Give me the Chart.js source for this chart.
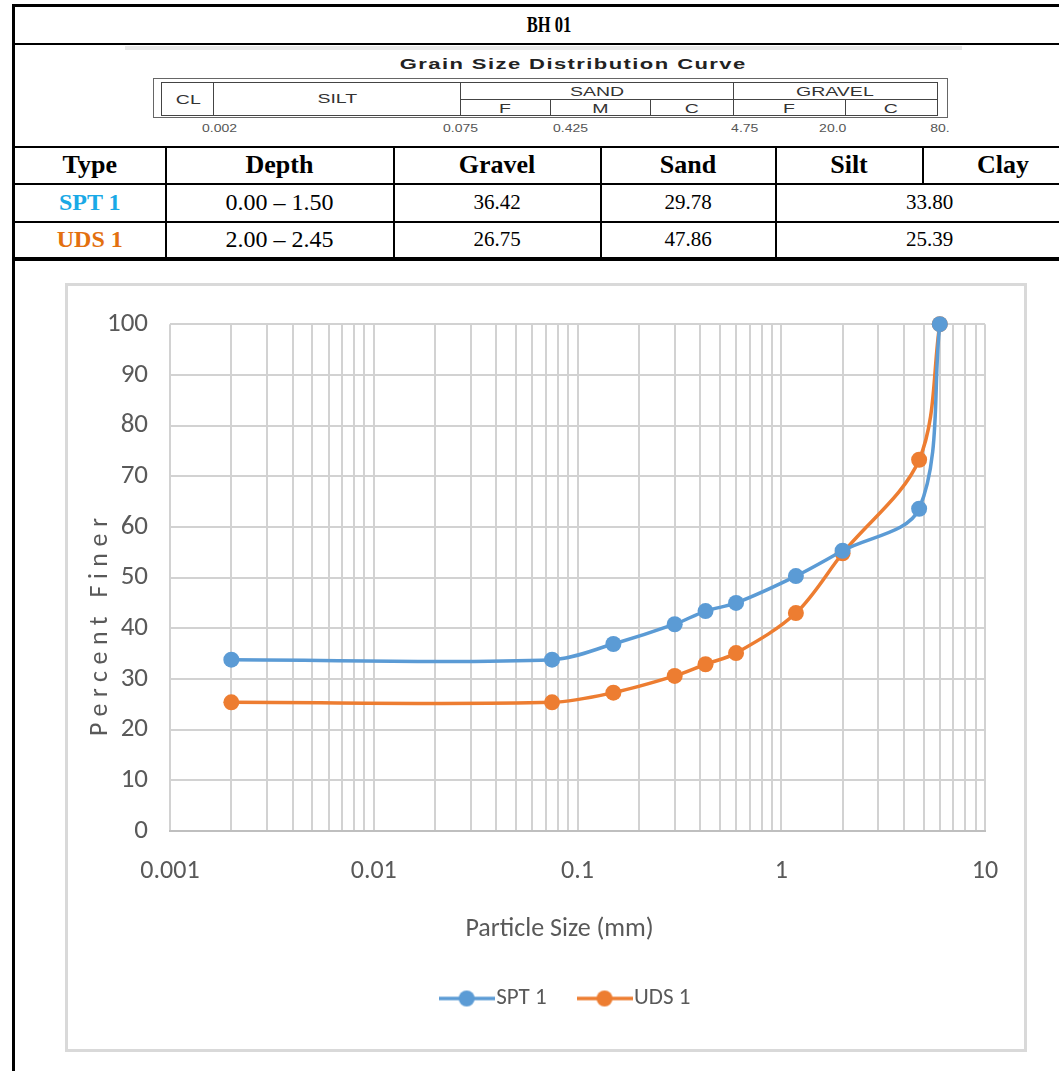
<!DOCTYPE html>
<html>
<head>
<meta charset="utf-8">
<script src="https://cdn.jsdelivr.net/npm/chart.js@4.4.1/dist/chart.umd.min.js"></script>
<style>
  html, body { margin: 0; padding: 0; background: #fff; }
  body { width: 1059px; height: 1071px; position: relative; overflow: hidden; }
  #tbl {
    position: absolute; left: 12px; top: 4px; width: 1070px;
    border-collapse: collapse; table-layout: fixed;
    font-family: "Liberation Serif", "Times New Roman", serif; color: #000;
  }
  #tbl td, #tbl th { border: 2px solid #000; padding: 0; text-align: center; vertical-align: middle; }
  #tbl tr:first-child td { border-top-width: 3px; }
  #tbl tr:last-child td { border-bottom-width: 4px; }
  #tbl td:first-child, #tbl th:first-child { border-left-width: 3px; }
  .bh { font-weight: bold; font-size: 23px; }
  .bh span { display: inline-block; transform: scaleX(0.72); }
  #tbl th { font-size: 26px; font-weight: bold; }
  .depth { font-size: 24px; }
  .num { font-size: 21px; }
  .spt { color: #1aa9e6; font-weight: bold; font-size: 24px; }
  .uds { color: #e3700f; font-weight: bold; font-size: 24px; }
  .band { position: absolute; font-family: "Liberation Sans", Arial, sans-serif; color: #333; }
  .ln { position: absolute; background: #444; }
  .lbl { position: absolute; width: 200px; text-align: center; line-height: 1; }
  .lbl span { display: inline-block; transform: scaleX(1.5); }
  #leftline { position: absolute; left: 12px; top: 257px; width: 3px; height: 820px; background: #000; }
  #chartBox {
    position: absolute; left: 65px; top: 283px; width: 962px; height: 769px;
    border: 3px solid #d9d9d9; box-sizing: border-box; background: #fff;
  }
  #chartBox canvas { display: block; }
</style>
</head>
<body>

<table id="tbl">
  <colgroup>
    <col style="width:152px"><col style="width:228px"><col style="width:207px">
    <col style="width:175px"><col style="width:147px"><col style="width:161px">
  </colgroup>
  <tr style="height:38px"><td colspan="6" class="bh"><span>BH 01</span></td></tr>
  <tr style="height:103px"><td colspan="6"></td></tr>
  <tr style="height:37px"><th>Type</th><th>Depth</th><th>Gravel</th><th>Sand</th><th>Silt</th><th>Clay</th></tr>
  <tr style="height:38px"><td class="spt">SPT 1</td><td class="depth">0.00 – 1.50</td><td class="num">36.42</td><td class="num">29.78</td><td class="num" colspan="2">33.80</td></tr>
  <tr style="height:37px"><td class="uds">UDS 1</td><td class="depth">2.00 – 2.45</td><td class="num">26.75</td><td class="num">47.86</td><td class="num" colspan="2">25.39</td></tr>
</table>

<!-- grain size band -->
<div class="band">
  <div style="position:absolute;left:125px;top:46px;width:837px;height:4px;background:#e8e8e8"></div>
  <div class="lbl" style="left:373px;top:56px;width:400px;font-weight:bold;font-size:15.5px;color:#222"><span style="transform:scaleX(1.42);letter-spacing:1px">Grain Size Distribution Curve</span></div>
  <div style="position:absolute;left:153px;top:78px;width:795px;height:40px;border:1px solid #666;box-sizing:border-box"></div>
  <div style="position:absolute;left:161px;top:82px;width:777px;height:34px;border:1px solid #444;box-sizing:border-box"></div>
  <div class="ln" style="left:213px;top:82px;width:1px;height:34px"></div>
  <div class="ln" style="left:460px;top:82px;width:1px;height:34px"></div>
  <div class="ln" style="left:733px;top:82px;width:1px;height:34px"></div>
  <div class="ln" style="left:460px;top:99px;width:478px;height:1px"></div>
  <div class="ln" style="left:550px;top:99px;width:1px;height:17px"></div>
  <div class="ln" style="left:650px;top:99px;width:1px;height:17px"></div>
  <div class="ln" style="left:845px;top:99px;width:1px;height:17px"></div>
  <div class="lbl" style="left:88px;top:93px;font-size:13px"><span>CL</span></div>
  <div class="lbl" style="left:237px;top:92px;font-size:13px"><span>SILT</span></div>
  <div class="lbl" style="left:497px;top:85px;font-size:13px"><span>SAND</span></div>
  <div class="lbl" style="left:735px;top:85px;font-size:13px"><span>GRAVEL</span></div>
  <div class="lbl" style="left:405px;top:102px;font-size:13px"><span>F</span></div>
  <div class="lbl" style="left:500px;top:102px;font-size:13px"><span>M</span></div>
  <div class="lbl" style="left:592px;top:102px;font-size:13px"><span>C</span></div>
  <div class="lbl" style="left:689px;top:102px;font-size:13px"><span>F</span></div>
  <div class="lbl" style="left:791px;top:102px;font-size:13px"><span>C</span></div>
  <div class="lbl" style="left:120px;top:124px;font-size:10px;color:#555"><span style="transform:scaleX(1.4)">0.002</span></div>
  <div class="lbl" style="left:361px;top:124px;font-size:10px;color:#555"><span style="transform:scaleX(1.4)">0.075</span></div>
  <div class="lbl" style="left:471px;top:124px;font-size:10px;color:#555"><span style="transform:scaleX(1.4)">0.425</span></div>
  <div class="lbl" style="left:645px;top:124px;font-size:10px;color:#555"><span style="transform:scaleX(1.4)">4.75</span></div>
  <div class="lbl" style="left:733px;top:124px;font-size:10px;color:#555"><span style="transform:scaleX(1.4)">20.0</span></div>
  <div class="lbl" style="left:840px;top:124px;font-size:10px;color:#555"><span style="transform:scaleX(1.4)">80.</span></div>
</div>

<div id="leftline"></div>

<div id="chartBox"><canvas id="gsd" width="956" height="763"></canvas></div>

<script>
// sieve sizes (mm) and percent passing
const sizes = [0.002, 0.075, 0.15, 0.3, 0.425, 0.6, 1.18, 2.0, 4.75, 6.0];
const spt1 = [33.8, 33.8, 36.9, 40.8, 43.4, 45.0, 50.3, 55.3, 63.58, 100];
const uds1 = [25.39, 25.39, 27.3, 30.6, 32.9, 35.1, 43.0, 54.8, 73.25, 100];

const seriesNames = ['SPT 1', 'UDS 1'];
const seriesColors = ['#5b9bd5', '#ed7d31'];

const decadeTicks = [0.001, 0.01, 0.1, 1, 10];
const decadeLabels = ['0.001', '0.01', '0.1', '1', '10'];
const multipliers = [1, 2, 3, 4, 5, 6, 7, 8, 9];

const xTitle = 'Particle Size (mm)';
const yTitle = 'Percent Finer';

// gridline positions: 1..9 in every decade, plus the last decade
const gridValues = [];
decadeTicks.slice(0, -1).forEach((d) => {
  multipliers.forEach((m) => gridValues.push(+(d * m).toPrecision(3)));
});
gridValues.push(decadeTicks[decadeTicks.length - 1]);

const FONT = 'Carlito, Lato, sans-serif';
const GREY_TEXT = '#595959';

// legend icon: short line with a dot
function makeIcon(color) {
  const c = document.createElement('canvas');
  c.width = 56;
  c.height = 20;
  const g = c.getContext('2d');
  g.strokeStyle = color;
  g.lineWidth = 3.5;
  g.beginPath();
  g.moveTo(0, 10);
  g.lineTo(56, 10);
  g.stroke();
  g.fillStyle = color;
  g.beginPath();
  g.arc(28, 10, 8, 0, Math.PI * 2);
  g.fill();
  return c;
}
const icons = seriesColors.map(makeIcon);

const axisTitles = {
  id: 'axisTitles',
  afterLayout(chart) {
    // legend sits under the plot, a little left of its centre
    const { chartArea, legend } = chart;
    const shift = (chartArea.left + chartArea.right - legend.left - legend.right) / 2 - 8;
    legend.left += shift;
    legend.right += shift;
  },
  afterDraw(chart) {
    const { ctx, chartArea } = chart;
    ctx.save();
    ctx.fillStyle = GREY_TEXT;
    ctx.textAlign = 'center';
    ctx.textBaseline = 'middle';
    ctx.font = '26px ' + FONT;
    ctx.fillText(xTitle, chartArea.left + (chartArea.right - chartArea.left) * 0.478, chartArea.bottom + 98);
    ctx.translate(chartArea.left - 70, chartArea.top + (chartArea.bottom - chartArea.top) * 0.597);
    ctx.rotate(-Math.PI / 2);
    ctx.font = '26px ' + FONT;
    ctx.letterSpacing = '6.5px';
    ctx.fillText(yTitle, 3, 0);
    ctx.restore();
  },
};

const toPoints = (ys) => sizes.map((x, i) => ({ x, y: ys[i] }));

new Chart(document.getElementById('gsd'), {
  type: 'line',
  data: {
    datasets: [spt1, uds1].map((ys, i) => ({
      label: seriesNames[i],
      data: toPoints(ys),
      borderColor: seriesColors[i],
      backgroundColor: seriesColors[i],
      borderWidth: 3.5,
      pointRadius: 8,
      pointBorderWidth: 0,
      pointBackgroundColor: seriesColors[i],
      tension: 0.33,
      clip: false,
    })),
  },
  plugins: [axisTitles],
  options: {
    responsive: false,
    animation: false,
    layout: { padding: { left: 0, right: 39, top: 37, bottom: 29 } },
    scales: {
      x: {
        type: 'logarithmic',
        min: 0.001,
        max: 10,
        afterBuildTicks: (scale) => {
          scale.ticks = gridValues.map((v) => ({ value: v, major: decadeTicks.includes(v) }));
        },
        afterFit: (scale) => { scale.height = 116; },
        ticks: {
          autoSkip: false,
          maxRotation: 0,
          padding: 25,
          color: GREY_TEXT,
          font: { family: FONT, size: 26 },
          callback: (v) => {
            const k = decadeTicks.indexOf(v);
            return k >= 0 ? decadeLabels[k] : '';
          },
        },
        grid: { color: '#d2d2d2', lineWidth: 2, drawTicks: false },
        border: { color: '#bfbfbf', width: 2 },
      },
      y: {
        min: 0,
        max: 100,
        afterFit: (scale) => { scale.width = 102; },
        ticks: {
          stepSize: 10,
          padding: 22,
          color: GREY_TEXT,
          font: { family: FONT, size: 27 },
        },
        grid: { color: '#d2d2d2', lineWidth: 2, drawTicks: false },
        border: { display: false },
      },
    },
    plugins: {
      tooltip: { enabled: false },
      legend: {
        position: 'bottom',
        labels: {
          usePointStyle: true,
          pointStyleWidth: 36,
          padding: 40,
          color: GREY_TEXT,
          font: { family: FONT, size: 23 },
          generateLabels: (chart) =>
            Chart.defaults.plugins.legend.labels.generateLabels(chart).map((item, i) => ({
              ...item,
              pointStyle: icons[i],
            })),
        },
      },
    },
  },
});
</script>
</body>
</html>
